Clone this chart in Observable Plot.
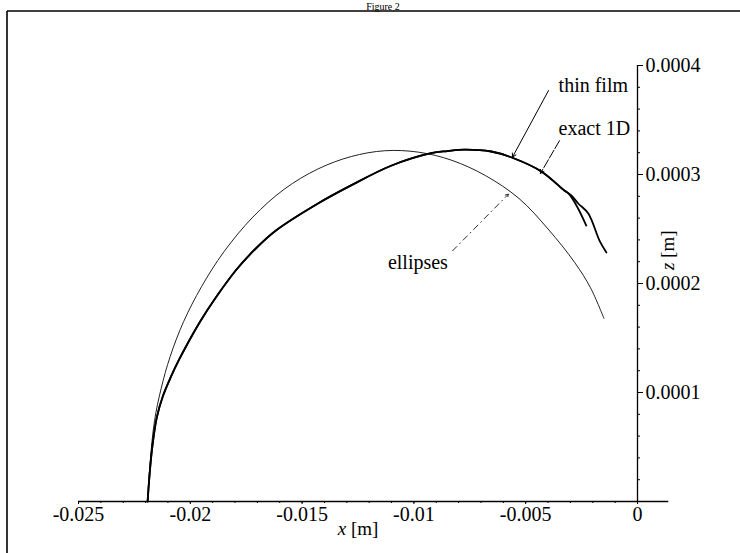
<!DOCTYPE html>
<html>
<head>
<meta charset="utf-8">
<script src="https://cdn.jsdelivr.net/npm/d3@7"></script>
<script src="https://cdn.jsdelivr.net/npm/@observablehq/plot@0.6"></script>
<style>
  html, body { margin: 0; padding: 0; background: white; }
  #chart svg { display: block; }
</style>
</head>
<body>
<div id="chart"></div>
<script>
// ---- tick values and labels ----
const xTicks = [-0.025, -0.02, -0.015, -0.01, -0.005, 0];
const xTickLabels = ["-0.025", "-0.02", "-0.015", "-0.01", "-0.005", "0"];
const zTicks = [0.0001, 0.0002, 0.0003, 0.0004];
const zTickLabels = ["0.0001", "0.0002", "0.0003", "0.0004"];
const xAxisEnd = 0.0014;

// ---- series: thin film ----
const thinFilmX = [-0.02191, -0.02182, -0.02170, -0.02150, -0.02122, -0.02088, -0.02052, -0.02012,
  -0.01953, -0.01895, -0.01797, -0.01707, -0.01617, -0.01429, -0.01281, -0.01102, -0.00923, -0.00850,
  -0.00775, -0.00654, -0.00551, -0.00430, -0.00327, -0.00309, -0.00273, -0.00229];
const thinFilmZ = [0, 0.0000250, 0.0000500, 0.0000770, 0.0000970, 0.0001138, 0.0001294, 0.0001450,
  0.0001661, 0.0001844, 0.0002119, 0.0002321, 0.0002486, 0.0002734, 0.0002900, 0.0003080, 0.0003195, 0.0003215,
  0.0003229, 0.0003211, 0.0003147, 0.0003028, 0.0002853, 0.0002826, 0.0002716, 0.0002532];

// ---- series: exact 1D ----
const exact1DX = [-0.02191, -0.02182, -0.02170, -0.02150, -0.02122, -0.02088, -0.02052, -0.02012,
  -0.01953, -0.01895, -0.01797, -0.01707, -0.01617, -0.01429, -0.01281, -0.01102, -0.00923, -0.00850,
  -0.00775, -0.00654, -0.00551, -0.00430, -0.00327, -0.00296, -0.00265, -0.00220, -0.00170, -0.00139];
const exact1DZ = [0, 0.0000250, 0.0000500, 0.0000770, 0.0000970, 0.0001138, 0.0001294, 0.0001450,
  0.0001661, 0.0001844, 0.0002119, 0.0002321, 0.0002486, 0.0002734, 0.0002900, 0.0003080, 0.0003195, 0.0003215,
  0.0003229, 0.0003211, 0.0003147, 0.0003028, 0.0002853, 0.0002807, 0.0002734, 0.0002642, 0.0002394, 0.0002284];

// ---- series: ellipses ----
const ellipsesX = [-0.0219, -0.0218, -0.0216, -0.0213, -0.0209, -0.0203, -0.0195, -0.0185, -0.0172,
  -0.0158, -0.0143, -0.0128, -0.0113, -0.0098, -0.0083, -0.0068, -0.0053, -0.0040, -0.0028, -0.0021, -0.0015];
const ellipsesZ = [0, 0.0000350, 0.0000740, 0.0001040, 0.0001330, 0.0001650, 0.0001970, 0.0002290, 0.0002610,
  0.0002865, 0.0003050, 0.0003165, 0.0003218, 0.0003205, 0.0003130, 0.0002990, 0.0002780, 0.0002500, 0.0002190, 0.0001960, 0.0001680];

// ---- annotations ----
const labelText = ["thin film", "exact 1D", "ellipses"];
const labelX = [-0.00353, -0.00353, -0.00848];
const labelZ = [0.000382, 0.000342, 0.000219];
const leaderX1 = [-0.00398, -0.00349, -0.00827];
const leaderZ1 = [0.000377, 0.000331, 0.000230];
const leaderX2 = [-0.00559, -0.00434, -0.00577];
const leaderZ2 = [0.000316, 0.000301, 0.000282];

const toRows = (xs, zs) => xs.map((x, i) => ({x, z: zs[i]}));
const labels = labelText.map((t, i) => ({text: t, x: labelX[i], z: labelZ[i]}));
const leaders = leaderX1.map((x1, i) => ({x1, z1: leaderZ1[i], x2: leaderX2[i], z2: leaderZ2[i]}));

const minorX = d3.range(-25, 1).map(k => k / 1000);
const minorZ = d3.range(0, 21).map(k => k * 0.00002);

const chart = Plot.plot({
  width: 740,
  height: 553,
  marginLeft: 78,
  marginRight: 103,
  marginTop: 65,
  marginBottom: 52,
  x: {domain: [-0.025, 0], label: null},
  y: {domain: [0, 0.0004], label: null},
  style: {fontFamily: "'Liberation Serif', 'DejaVu Serif', serif", fontSize: "20px", background: "white", color: "black"},
  marks: [
    // axes lines
    Plot.ruleY([0], {x1: xTicks[0], x2: xAxisEnd, stroke: "black", strokeWidth: 1.3}),
    Plot.ruleX([0], {stroke: "black", strokeWidth: 1.3}),
    Plot.axisX(minorX, {anchor: "bottom", tickSize: 2, tickFormat: () => "", label: null}),
    Plot.axisX(xTicks, {anchor: "bottom", tickSize: 3, tickPadding: 2, label: null, fontSize: 20,
      tickFormat: d => xTickLabels[xTicks.indexOf(d)]}),
    Plot.axisY(minorZ, {anchor: "right", tickSize: 2, tickFormat: () => "", label: null}),
    Plot.axisY(zTicks, {anchor: "right", tickSize: 5, tickPadding: 3, label: null, fontSize: 20,
      tickFormat: d => zTickLabels[zTicks.indexOf(d)]}),
    Plot.text(["x [m]"], {frameAnchor: "bottom", dy: 27, fontSize: 19, lineAnchor: "middle"}),
    Plot.text(["z [m]"], {frameAnchor: "right", dx: 30, dy: -53, rotate: -90, fontSize: 19, lineAnchor: "middle"}),
    // curves
    Plot.line(toRows(ellipsesX, ellipsesZ), {x: "x", y: "z", curve: "catmull-rom", stroke: "#222", strokeWidth: 1}),
    Plot.line(toRows(exact1DX, exact1DZ), {x: "x", y: "z", curve: "catmull-rom", stroke: "black", strokeWidth: 1.8}),
    Plot.line(toRows(thinFilmX, thinFilmZ), {x: "x", y: "z", curve: "catmull-rom", stroke: "black", strokeWidth: 1.8}),
    // leaders
    Plot.arrow(leaders.slice(0, 1), {x1: "x1", y1: "z1", x2: "x2", y2: "z2", stroke: "black", strokeWidth: 1, headLength: 6}),
    Plot.arrow(leaders.slice(1, 2), {x1: "x1", y1: "z1", x2: "x2", y2: "z2", stroke: "black", strokeWidth: 1, headLength: 6, strokeDasharray: "9,2"}),
    Plot.arrow(leaders.slice(2), {x1: "x1", y1: "z1", x2: "x2", y2: "z2", stroke: "#333", strokeWidth: 1, headLength: 5, strokeDasharray: "6,4,1,4"}),
    Plot.text(labels.slice(0, 2), {x: "x", y: "z", text: "text", textAnchor: "start", fontSize: 20, lineAnchor: "middle"}),
    Plot.text(labels.slice(2), {x: "x", y: "z", text: "text", textAnchor: "end", fontSize: 20, lineAnchor: "middle"})
  ]
});

document.getElementById("chart").appendChild(chart);

const svg = d3.select(chart);
svg.selectAll("text").each(function() {
  const t = this.textContent;
  if (t === "x [m]" || t === "z [m]") {
    const sel = d3.select(this);
    sel.text(null);
    sel.append("tspan").attr("font-style", "italic").text(t[0]);
    sel.append("tspan").text(t.slice(1));
  }
});
// scan frame
svg.append("line").attr("x1", 7).attr("y1", 11).attr("x2", 740).attr("y2", 11).attr("stroke", "black").attr("stroke-width", 1.6);
svg.append("line").attr("x1", 7).attr("y1", 11).attr("x2", 7).attr("y2", 553).attr("stroke", "black").attr("stroke-width", 1.6);
svg.append("text").attr("x", 383).attr("y", 9.5).attr("text-anchor", "middle").attr("font-size", 10).text("Figure 2");
</script>
</body>
</html>
